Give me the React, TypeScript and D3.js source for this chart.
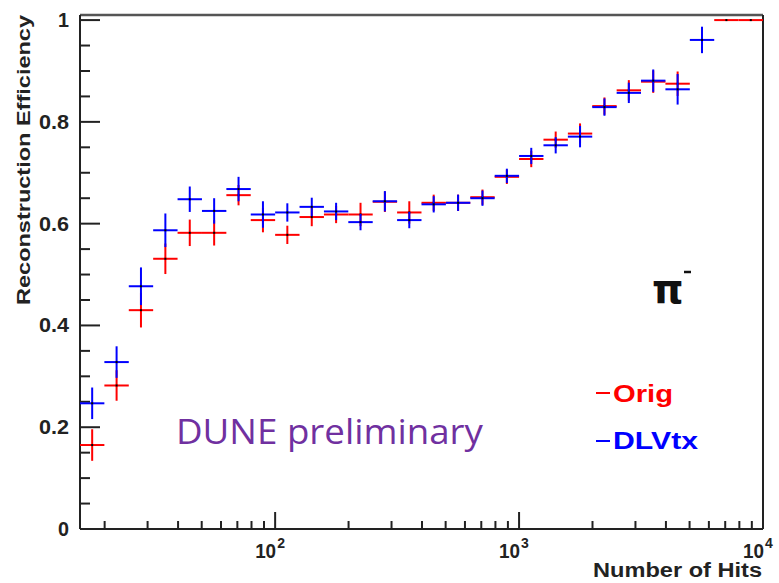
import React from "react";
import * as d3 from "d3";

const binCenters: number[] = [
  17.78, 22.39, 28.18, 35.48, 44.67, 56.23, 70.79, 89.13, 112.2, 141.3,
  177.8, 223.9, 281.8, 354.8, 446.7, 562.3, 707.9, 891.3, 1122, 1413,
  1778, 2239, 2818, 3548, 4467, 5623, 7079, 8913,
];
const binEdges: number[] = [
  15.85, 19.95, 25.12, 31.62, 39.81, 50.12, 63.1, 79.43, 100, 125.9,
  158.5, 199.5, 251.2, 316.2, 398.1, 501.2, 631, 794.3, 1000, 1259,
  1585, 1995, 2512, 3162, 3981, 5012, 6310, 7943, 10000,
];
const origValues: (number | null)[] = [
  0.165, 0.282, 0.43, 0.531, 0.582, 0.582, 0.656, 0.607, 0.578, 0.613,
  0.618, 0.618, 0.643, 0.622, 0.641, 0.641, 0.652, 0.692, 0.727, 0.765,
  0.777, 0.831, 0.862, 0.879, 0.875, null, 1.0, 1.0,
];
const origErrors: number[] = [
  0.031, 0.03, 0.034, 0.03, 0.026, 0.025, 0.02, 0.024, 0.018, 0.018,
  0.017, 0.023, 0.02, 0.022, 0.016, 0.016, 0.015, 0.014, 0.016, 0.016,
  0.02, 0.017, 0.02, 0.022, 0.024, 0, 0, 0,
];
const dlvtxValues: (number | null)[] = [
  0.247, 0.328, 0.477, 0.587, 0.648, 0.625, 0.668, 0.618, 0.622, 0.633,
  0.624, 0.603, 0.644, 0.607, 0.638, 0.641, 0.65, 0.694, 0.733, 0.754,
  0.771, 0.829, 0.857, 0.881, 0.864, 0.961, null, null,
];
const dlvtxErrors: number[] = [
  0.031, 0.031, 0.037, 0.033, 0.025, 0.025, 0.024, 0.026, 0.018, 0.018,
  0.017, 0.016, 0.02, 0.016, 0.016, 0.016, 0.015, 0.014, 0.016, 0.016,
  0.021, 0.017, 0.02, 0.022, 0.03, 0.026, 0, 0,
];
const yMajorTicks: number[] = [0, 0.2, 0.4, 0.6, 0.8, 1];
const yTickLabels: string[] = ["0", "0.2", "0.4", "0.6", "0.8", "1"];
const xMajorTicks: number[] = [100, 1000, 10000];
const xTickExponents: string[] = ["2", "3", "4"];

const W = 779;
const H = 583;
const L = 80;
const R = 763;
const T = 15;
const B = 529;

const FONT = "'Liberation Sans', Arial, Helvetica, sans-serif";

export default function App() {
  const x = d3.scaleLog().domain([15.85, 10000]).range([L, R]);
  const y = d3.scaleLinear().domain([0, 1.01]).range([B, T]);

  const yMinor = d3.range(0, 1.0001, 0.05).filter((v) => Math.abs(v * 5 - Math.round(v * 5)) > 1e-6);
  const xMinor: number[] = [];
  [10, 100, 1000].forEach((dec) => {
    for (let k = 2; k <= 9; k++) {
      const v = dec * k;
      if (v > 15.85 && v < 10000) xMinor.push(v);
    }
  });

  const series = [
    { name: "Orig", color: "#ff0000", values: origValues, errors: origErrors },
    { name: "DLVtx", color: "#0000ff", values: dlvtxValues, errors: dlvtxErrors },
  ];

  return (
    <svg
      width={W}
      height={H}
      style={{ position: "absolute", left: 0, top: 0, background: "#fff" }}
      fontFamily={FONT}
    >
      <rect x={0} y={0} width={W} height={H} fill="#fff" />
      {/* frame */}
      <line x1={L} y1={T} x2={R} y2={T} stroke="#555" strokeWidth={2.5} />
      <line x1={R} y1={T} x2={R} y2={B} stroke="#222" strokeWidth={2} />
      <line x1={L} y1={T} x2={L} y2={B} stroke="#222" strokeWidth={2} />
      <line x1={L} y1={B} x2={R} y2={B} stroke="#222" strokeWidth={2} />

      {/* y ticks */}
      {yMajorTicks.map((v, i) => (
        <g key={"ym" + i}>
          <line x1={L} x2={L + 20} y1={y(v)} y2={y(v)} stroke="#222" strokeWidth={2} />
          <text
            x={69}
            y={y(v) + 7}
            textAnchor="end"
            fontSize={19.5}
            fontWeight="bold"
            fill="#222"
            textLength={yTickLabels[i].length > 1 ? 30 : 11}
            lengthAdjust="spacingAndGlyphs"
          >
            {yTickLabels[i]}
          </text>
        </g>
      ))}
      {yMinor.map((v, i) => (
        <line key={"yn" + i} x1={L} x2={L + 10} y1={y(v)} y2={y(v)} stroke="#222" strokeWidth={2} />
      ))}

      {/* x ticks */}
      {xMajorTicks.map((v, i) => (
        <g key={"xm" + i}>
          <line x1={x(v)} x2={x(v)} y1={B} y2={B - 17} stroke="#222" strokeWidth={2} />
          <text
            x={x(v) - 20}
            y={558}
            fontSize={20}
            fontWeight="bold"
            fill="#222"
            textLength={21}
            lengthAdjust="spacingAndGlyphs"
          >
            10
          </text>
          <text x={x(v) + 2} y={548} fontSize={14} fontWeight="bold" fill="#222">
            {xTickExponents[i]}
          </text>
        </g>
      ))}
      {xMinor.map((v, i) => (
        <line key={"xn" + i} x1={x(v)} x2={x(v)} y1={B} y2={B - 8} stroke="#222" strokeWidth={2} />
      ))}

      {/* axis titles */}
      <text
        x={762}
        y={577}
        textAnchor="end"
        fontSize={19.5}
        fontWeight="bold"
        fill="#222"
        textLength={169}
        lengthAdjust="spacingAndGlyphs"
      >
        Number of Hits
      </text>
      <text
        transform="translate(30,160) rotate(-90)"
        textAnchor="middle"
        fontSize={18.5}
        fontWeight="bold"
        fill="#222"
        textLength={290}
        lengthAdjust="spacingAndGlyphs"
      >
        Reconstruction Efficiency
      </text>

      {/* data */}
      {series.map((s) => (
        <g key={s.name}>
          {s.values.map((v, i) =>
            v === null ? null : (
              <g key={i}>
                <line
                  x1={x(binEdges[i])}
                  x2={x(binEdges[i + 1])}
                  y1={y(v)}
                  y2={y(v)}
                  stroke={s.color}
                  strokeWidth={2}
                />
                {s.errors[i] > 0 && (
                  <line
                    x1={x(binCenters[i])}
                    x2={x(binCenters[i])}
                    y1={y(v - s.errors[i])}
                    y2={y(v + s.errors[i])}
                    stroke={s.color}
                    strokeWidth={2}
                  />
                )}
                <rect x={x(binCenters[i]) - 1} y={y(v) - 1} width={2} height={2} fill="#000" />
              </g>
            )
          )}
        </g>
      ))}

      {/* annotations */}
      <text x={652} y={303} fontSize={40} fill="#111" fontFamily="'DejaVu Sans', sans-serif" fontWeight="bold">
        π
      </text>
      <line x1={684} x2={691} y1={272} y2={272} stroke="#111" strokeWidth={2.5} />

      <line x1={596} x2={610} y1={393} y2={393} stroke="#ff0000" strokeWidth={2} />
      <text
        x={613}
        y={402}
        fontSize={23}
        fontWeight="bold"
        fill="#ff0000"
        textLength={60}
        lengthAdjust="spacingAndGlyphs"
      >
        Orig
      </text>
      <line x1={596} x2={610} y1={441} y2={441} stroke="#0000ff" strokeWidth={2} />
      <text
        x={613}
        y={449}
        fontSize={23}
        fontWeight="bold"
        fill="#0000ff"
        textLength={85}
        lengthAdjust="spacingAndGlyphs"
      >
        DLVtx
      </text>

      <text
        x={176}
        y={444}
        fontSize={34}
        fill="#7030a0"
        fontFamily="'Open Sans', sans-serif"
        textLength={307}
        lengthAdjust="spacingAndGlyphs"
      >
        DUNE preliminary
      </text>
    </svg>
  );
}
